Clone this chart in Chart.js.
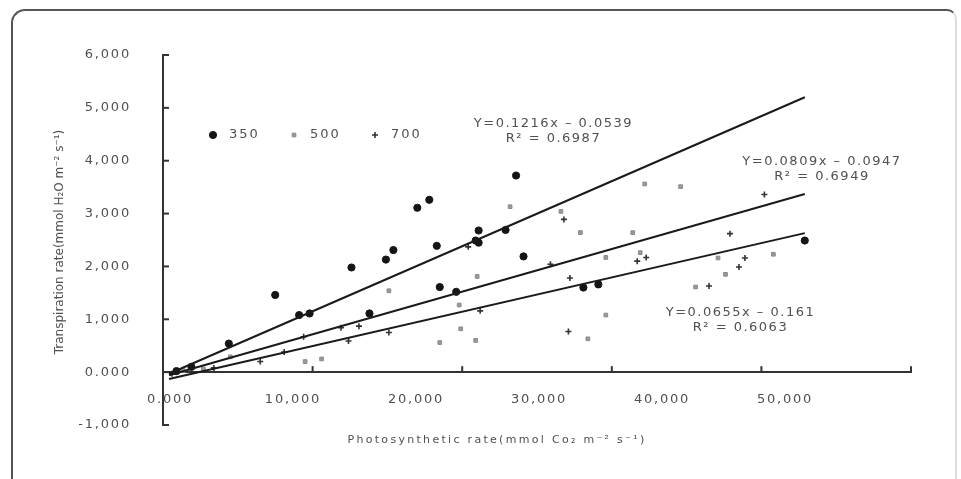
<!DOCTYPE html>
<html>
<head>
<meta charset="utf-8">
<script src="https://cdn.jsdelivr.net/npm/chart.js@4.4.1/dist/chart.umd.min.js"></script>
<style>
  html, body { margin: 0; padding: 0; background: #fff; }
  #wrap { position: relative; width: 961px; height: 479px; overflow: hidden; }
  #frame {
    position: absolute; left: 11px; top: 9px; width: 942px; height: 490px;
    border: 2.5px solid #555; border-right-color: #ddd; border-bottom: none;
    border-radius: 14px 10px 0 0; pointer-events: none;
  }
</style>
</head>
<body>
<div id="wrap">
  <canvas id="chart" width="961" height="479"></canvas>
  <div id="frame"></div>
</div>
<script>
// CO2 level series (photosynthetic rate, transpiration rate)
const seriesNames = ['350', '500', '700'];
const xTickValues = [0, 10, 20, 30, 40, 50];
const yTickValues = [-1, 0, 1, 2, 3, 4, 5, 6];

const co2_350 = [
  [0.9, 0.02], [1.9, 0.1], [4.4, 0.54], [7.5, 1.46], [9.1, 1.08], [9.8, 1.11],
  [12.6, 1.98], [13.8, 1.11], [14.9, 2.13], [15.4, 2.31], [17.0, 3.11], [17.8, 3.26],
  [18.3, 2.39], [18.5, 1.61], [19.6, 1.52], [20.9, 2.49], [21.1, 2.45], [21.1, 2.68],
  [22.9, 2.69], [23.6, 3.72], [24.1, 2.19], [28.1, 1.6], [29.1, 1.66], [42.9, 2.49],
];
const co2_500 = [
  [1.35, 0.03], [2.7, 0.06], [4.5, 0.29], [9.5, 0.2], [10.6, 0.25], [15.1, 1.54],
  [18.5, 0.56], [19.8, 1.27], [19.9, 0.82], [20.9, 0.6], [21.0, 1.81], [23.2, 3.13],
  [26.6, 3.04], [27.9, 2.64], [28.4, 0.63], [29.6, 2.17], [29.6, 1.08], [31.4, 2.64],
  [31.9, 2.26], [32.2, 3.56], [34.6, 3.51], [35.6, 1.61], [37.1, 2.16], [37.6, 1.85],
  [40.8, 2.23],
];
const co2_700 = [
  [0.6, -0.03], [3.4, 0.08], [6.5, 0.2], [8.1, 0.38], [9.4, 0.67], [11.9, 0.84],
  [12.4, 0.59], [13.1, 0.87], [15.1, 0.75], [20.4, 2.37], [21.2, 1.16], [25.9, 2.04],
  [26.8, 2.89], [27.1, 0.77], [27.2, 1.78], [31.7, 2.1], [32.3, 2.17], [36.5, 1.63],
  [37.9, 2.62], [38.5, 1.99], [38.9, 2.16], [40.2, 3.36],
];

// trend line end points
const trend350 = [[0.4, -0.03], [42.9, 5.2]];
const trend500 = [[0.4, -0.06], [42.9, 3.37]];
const trend700 = [[0.4, -0.13], [42.9, 2.63]];

const equations = [
  ['Y=0.1216x \u2013 0.0539', 'R\u00b2 = 0.6987'],
  ['Y=0.0809x \u2013 0.0947', 'R\u00b2 = 0.6949'],
  ['Y=0.0655x \u2013 0.161', 'R\u00b2 = 0.6063'],
];

const xTitle = 'Photosynthetic rate(mmol Co\u2082 m\u207b\u00b2 s\u207b\u00b9)';
const yTitle = 'Transpiration rate(mmol H\u2082O m\u207b\u00b2 s\u207b\u00b9)';

const toXY = pts => pts.map(([x, y]) => ({ x, y }));
const fmt = v => (v === 0 ? '0.000' : v.toFixed(3).replace('.', ','));

const FONT = '"DejaVu Sans", sans-serif';
const TEXT = '#505050';

const pointStyles = [
  { pointStyle: 'circle', radius: 3.6, backgroundColor: '#151515', borderColor: '#151515', borderWidth: 1 },
  { pointStyle: 'rect', radius: 2.6, backgroundColor: '#9a9a9a', borderColor: '#8a8a8a', borderWidth: 1 },
  { pointStyle: 'cross', radius: 3, backgroundColor: '#333', borderColor: '#333', borderWidth: 1.6 },
];

const scatterSets = [co2_350, co2_500, co2_700].map((pts, i) => ({
  label: seriesNames[i],
  data: toXY(pts),
  xAxisID: 'x',
  yAxisID: 'y',
  showLine: false,
  pointStyle: pointStyles[i].pointStyle,
  pointRadius: pointStyles[i].radius,
  pointBackgroundColor: pointStyles[i].backgroundColor,
  pointBorderColor: pointStyles[i].borderColor,
  pointBorderWidth: pointStyles[i].borderWidth,
  order: 2,
}));

const trendSets = [trend350, trend500, trend700].map(pts => ({
  label: '',
  data: toXY(pts),
  xAxisID: 'x',
  yAxisID: 'y',
  showLine: true,
  borderColor: '#1a1a1a',
  borderWidth: 2,
  pointRadius: 0,
  fill: false,
  order: 1,
}));

// legend, equations, inner ticks and axis titles
const overlay = {
  id: 'overlay',
  beforeDraw(chart) {
    chart.ctx.letterSpacing = '1.8px';
  },
  afterDraw(chart) {
    const { ctx, chartArea } = chart;
    const x = chart.scales.x, y = chart.scales.y;
    const y0 = y.getPixelForValue(0);
    ctx.save();

    // tick marks pointing into the plot
    ctx.strokeStyle = '#333';
    ctx.lineWidth = 2;
    xTickValues.forEach(v => {
      const px = x.getPixelForValue(v);
      ctx.beginPath(); ctx.moveTo(px, y0); ctx.lineTo(px, y0 - 6); ctx.stroke();
    });
    yTickValues.forEach(v => {
      const py = y.getPixelForValue(v);
      ctx.beginPath(); ctx.moveTo(chartArea.left, py); ctx.lineTo(chartArea.left + 6, py); ctx.stroke();
    });

    // legend inside plot
    ctx.letterSpacing = '2px';
    ctx.font = '13px ' + FONT;
    ctx.fillStyle = TEXT;
    ctx.textBaseline = 'middle';
    ctx.textAlign = 'left';
    const legY = 135;
    let legX = chartArea.left + 50;
    scatterSets.forEach((ds, i) => {
      const st = pointStyles[i];
      ctx.save();
      ctx.fillStyle = st.backgroundColor;
      ctx.strokeStyle = st.borderColor;
      ctx.lineWidth = st.borderWidth;
      Chart.helpers.drawPoint(ctx, { pointStyle: st.pointStyle, radius: st.radius, borderWidth: st.borderWidth }, legX, legY);
      ctx.restore();
      ctx.fillStyle = TEXT;
      ctx.fillText(ds.label, legX + 16, legY);
      legX += 81;
    });

    // regression equations
    const eqPos = [[26.1, 4.71], [44.05, 3.98], [38.6, 1.12]];
    ctx.letterSpacing = '1.5px';
    ctx.textAlign = 'center';
    equations.forEach((lines, i) => {
      const cx = x.getPixelForValue(eqPos[i][0]);
      const cy = y.getPixelForValue(eqPos[i][1]);
      lines.forEach((t, j) => ctx.fillText(t, cx, cy + j * 15));
    });

    // axis titles
    ctx.letterSpacing = '2.3px';
    ctx.font = '11px ' + FONT;
    ctx.fillText(xTitle, 497, 440);
    ctx.letterSpacing = '0px';
    ctx.font = '12px ' + FONT;
    ctx.translate(60, (chartArea.top + chartArea.bottom) / 2 + 2);
    ctx.rotate(-Math.PI / 2);
    ctx.fillText(yTitle, 0, 0);
    ctx.restore();
  },
};

new Chart(document.getElementById('chart'), {
  type: 'scatter',
  data: { datasets: [...trendSets, ...scatterSets] },
  plugins: [overlay],
  options: {
    responsive: false,
    animation: false,
    layout: { padding: { left: 0, top: 55, right: 50, bottom: 54 } },
    plugins: { legend: { display: false }, tooltip: { enabled: false } },
    scales: {
      x: {
        type: 'linear',
        min: 0,
        max: 50,
        position: { y: 0 },
        grid: { display: false },
        border: { display: true, color: '#333', width: 2 },
        ticks: { display: false },
        afterBuildTicks: s => { s.ticks = xTickValues.map(value => ({ value })); },
      },
      // label axis: the printed labels sit off the tick marks in the source
      xl: {
        type: 'linear',
        axis: 'x',
        min: -0.57,
        max: 60.24,
        position: { y: 0 },
        grid: { display: false },
        border: { display: false },
        ticks: {
          padding: 12,
          color: TEXT,
          font: { family: FONT, size: 13 },
          maxRotation: 0,
          callback: v => fmt(v),
        },
        afterBuildTicks: s => { s.ticks = xTickValues.map(value => ({ value })); },
      },
      y: {
        type: 'linear',
        min: -1,
        max: 6,
        position: 'left',
        grid: { display: false },
        border: { display: true, color: '#333', width: 2 },
        ticks: {
          padding: 24,
          color: TEXT,
          font: { family: FONT, size: 13 },
          callback: v => fmt(v),
        },
        afterBuildTicks: s => { s.ticks = yTickValues.map(value => ({ value })); },
        afterFit: s => { s.width = 163; },
      },
    },
  },
});
</script>
</body>
</html>
